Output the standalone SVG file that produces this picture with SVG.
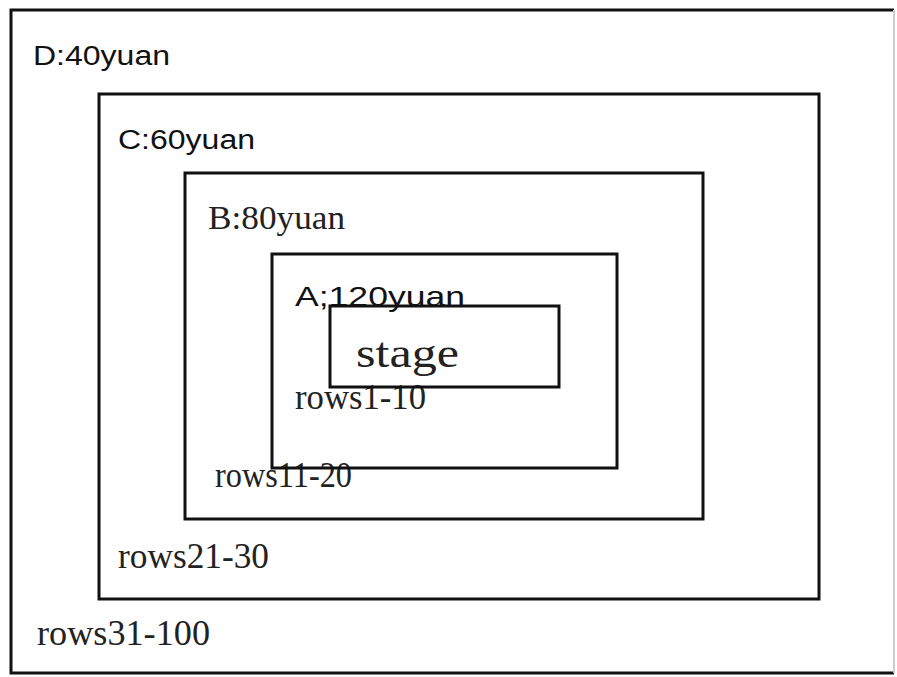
<svg xmlns="http://www.w3.org/2000/svg" width="897" height="677" viewBox="0 0 897 677">
<style>
.box{fill:none;stroke:#111;stroke-width:3}
.sans{font-family:"Liberation Sans","Noto Sans CJK SC",sans-serif;fill:#111}
.serif{font-family:"Liberation Serif","Noto Serif CJK SC",serif;fill:#222}
</style>
<rect x="0" y="0" width="897" height="677" fill="#fff"/>
<g id="zone-D">
<path class="box" d="M894 10 H11 V673 H894"/>
<path d="M894 10 V673" fill="none" stroke="#ccc" stroke-width="2"/>
<text class="sans" x="33" y="65" font-size="27" textLength="137" lengthAdjust="spacingAndGlyphs">D:40yuan</text>
<text class="serif" x="37" y="645" font-size="35" textLength="173" lengthAdjust="spacingAndGlyphs">rows31-100</text>
</g>
<g id="zone-C">
<rect class="box" x="99" y="94" width="720" height="505"/>
<text class="sans" x="118" y="149" font-size="27" textLength="137" lengthAdjust="spacingAndGlyphs">C:60yuan</text>
<text class="serif" x="118" y="568" font-size="35" textLength="151" lengthAdjust="spacingAndGlyphs">rows21-30</text>
</g>
<g id="zone-B">
<rect class="box" x="185" y="173" width="518" height="346"/>
<text class="serif" x="208" y="229" font-size="34" textLength="137" lengthAdjust="spacingAndGlyphs">B:80yuan</text>
<text class="serif" x="215" y="487" font-size="35" textLength="137" lengthAdjust="spacingAndGlyphs">rows11-20</text>
</g>
<g id="zone-A">
<rect class="box" x="272" y="254" width="345" height="214"/>
<text class="sans" x="295" y="306" font-size="28" textLength="170" lengthAdjust="spacingAndGlyphs">A;120yuan</text>
<text class="serif" x="295" y="409" font-size="35" textLength="131" lengthAdjust="spacingAndGlyphs">rows1-10</text>
</g>
<g id="stage">
<rect class="box" x="330" y="306" width="229" height="81"/>
<text class="serif" x="356" y="367" font-size="42" textLength="103" lengthAdjust="spacingAndGlyphs">stage</text>
</g>
<g id="connectors"/>
</svg>
